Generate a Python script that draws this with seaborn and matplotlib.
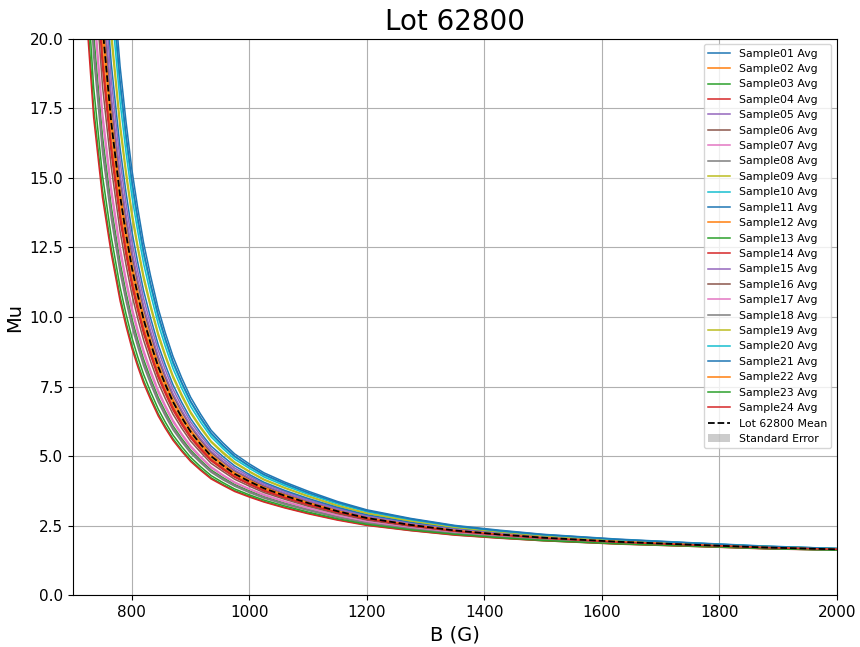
import numpy as np
import pandas as pd
import matplotlib
matplotlib.use("Agg")
import matplotlib.pyplot as plt
import seaborn as sns

# --------------------------
# Data
# --------------------------
lot_name = "62800"
b_field = [720, 735, 750, 765, 780, 790, 800, 810, 820, 832, 845, 857, 870, 885, 900, 917, 935,
           955, 975, 1000, 1025, 1060, 1100, 1150, 1200, 1275, 1350, 1425, 1500, 1625, 1750, 1875, 2000]

sample01 = [52.3, 37.1, 28.25, 22.86, 19.01, 17.04, 15.31, 13.92, 12.67, 11.47, 10.30, 9.43, 8.59, 7.81, 7.12, 6.51, 5.93, 5.48, 5.08, 4.72, 4.40, 4.07, 3.74, 3.37, 3.07, 2.76, 2.51, 2.34, 2.19, 2.02, 1.89, 1.77, 1.68]
sample02 = [34.75, 26.0, 20.66, 17.16, 14.52, 13.14, 11.91, 10.92, 10.03, 9.15, 8.30, 7.66, 7.03, 6.45, 5.94, 5.48, 5.05, 4.71, 4.40, 4.13, 3.88, 3.61, 3.34, 3.04, 2.79, 2.54, 2.34, 2.20, 2.08, 1.93, 1.82, 1.72, 1.65]
sample03 = [26.0, 20.17, 16.50, 13.97, 11.96, 10.89, 9.95, 9.18, 8.48, 7.79, 7.11, 6.60, 6.09, 5.63, 5.22, 4.85, 4.50, 4.23, 3.98, 3.75, 3.54, 3.31, 3.08, 2.83, 2.62, 2.40, 2.23, 2.10, 2.00, 1.87, 1.78, 1.69, 1.63]
sample04 = [31.1, 23.6, 18.97, 15.87, 13.48, 12.23, 11.12, 10.22, 9.40, 8.61, 7.82, 7.24, 6.65, 6.12, 5.65, 5.23, 4.83, 4.52, 4.24, 3.98, 3.74, 3.49, 3.24, 2.96, 2.72, 2.49, 2.30, 2.16, 2.05, 1.91, 1.81, 1.71, 1.64]
sample05 = [38.8, 28.6, 22.46, 18.53, 15.61, 14.08, 12.73, 11.65, 10.67, 9.72, 8.80, 8.10, 7.41, 6.79, 6.23, 5.74, 5.27, 4.90, 4.57, 4.28, 4.01, 3.73, 3.44, 3.13, 2.87, 2.60, 2.38, 2.23, 2.11, 1.95, 1.84, 1.73, 1.66]
sample06 = [36.3, 27.0, 21.37, 17.70, 14.94, 13.51, 12.24, 11.22, 10.29, 9.38, 8.49, 7.83, 7.18, 6.59, 6.06, 5.58, 5.13, 4.79, 4.47, 4.19, 3.93, 3.66, 3.38, 3.08, 2.82, 2.56, 2.36, 2.21, 2.09, 1.94, 1.83, 1.73, 1.65]
sample07 = [27.8, 21.40, 17.39, 14.67, 12.52, 11.39, 10.38, 9.56, 8.82, 8.09, 7.37, 6.83, 6.30, 5.81, 5.38, 4.99, 4.62, 4.33, 4.07, 3.83, 3.62, 3.38, 3.14, 2.88, 2.66, 2.43, 2.25, 2.12, 2.02, 1.89, 1.79, 1.70, 1.64]
sample08 = [24.8, 19.37, 15.92, 13.53, 11.60, 10.58, 9.67, 8.93, 8.25, 7.59, 6.94, 6.44, 5.95, 5.51, 5.11, 4.76, 4.42, 4.15, 3.92, 3.69, 3.49, 3.27, 3.05, 2.80, 2.59, 2.38, 2.21, 2.09, 1.99, 1.87, 1.77, 1.69, 1.63]
sample09 = [43.2, 31.4, 24.42, 20.00, 16.76, 15.09, 13.62, 12.43, 11.36, 10.32, 9.31, 8.56, 7.82, 7.14, 6.54, 6.00, 5.50, 5.10, 4.75, 4.43, 4.14, 3.85, 3.55, 3.21, 2.94, 2.65, 2.43, 2.27, 2.14, 1.98, 1.86, 1.75, 1.67]
sample10 = [47.1, 33.9, 26.05, 21.23, 17.72, 15.93, 14.35, 13.08, 11.92, 10.82, 9.74, 8.94, 8.15, 7.43, 6.79, 6.22, 5.69, 5.27, 4.89, 4.56, 4.25, 3.94, 3.63, 3.28, 3.00, 2.70, 2.46, 2.30, 2.16, 1.99, 1.87, 1.75, 1.67]
sample11 = [40.5, 29.7, 23.23, 19.10, 16.07, 14.49, 13.09, 11.97, 10.95, 9.96, 9.00, 8.28, 7.57, 6.93, 6.35, 5.84, 5.36, 4.99, 4.65, 4.34, 4.06, 3.77, 3.48, 3.16, 2.89, 2.62, 2.40, 2.25, 2.12, 1.96, 1.85, 1.74, 1.66]
sample12 = [32.5, 24.54, 19.62, 16.38, 13.89, 12.59, 11.43, 10.50, 9.65, 8.82, 8.01, 7.40, 6.80, 6.25, 5.76, 5.33, 4.91, 4.59, 4.30, 4.04, 3.80, 3.54, 3.28, 2.99, 2.75, 2.51, 2.31, 2.17, 2.06, 1.92, 1.81, 1.71, 1.65]
sample13 = [22.14, 17.53, 14.57, 12.46, 10.74, 9.82, 9.00, 8.33, 7.72, 7.12, 6.52, 6.07, 5.63, 5.22, 4.86, 4.53, 4.22, 3.98, 3.76, 3.56, 3.37, 3.16, 2.95, 2.72, 2.53, 2.33, 2.17, 2.06, 1.96, 1.85, 1.76, 1.68, 1.62]
sample14 = [21.65, 17.17, 14.30, 12.27, 10.58, 9.68, 8.88, 8.22, 7.62, 7.03, 6.44, 6.00, 5.57, 5.17, 4.81, 4.49, 4.18, 3.95, 3.73, 3.53, 3.35, 3.14, 2.93, 2.70, 2.51, 2.32, 2.16, 2.05, 1.96, 1.84, 1.76, 1.67, 1.62]
sample15 = [37.1, 27.5, 21.71, 17.96, 15.14, 13.69, 12.40, 11.36, 10.41, 9.49, 8.59, 7.91, 7.25, 6.65, 6.11, 5.63, 5.18, 4.82, 4.50, 4.22, 3.96, 3.68, 3.40, 3.09, 2.84, 2.57, 2.37, 2.22, 2.09, 1.94, 1.83, 1.73, 1.66]
sample16 = [29.7, 22.7, 18.31, 15.38, 13.08, 11.89, 10.82, 9.95, 9.17, 8.40, 7.64, 7.07, 6.51, 6.00, 5.54, 5.14, 4.74, 4.45, 4.17, 3.92, 3.69, 3.45, 3.20, 2.93, 2.70, 2.47, 2.28, 2.15, 2.04, 1.90, 1.80, 1.71, 1.64]
sample17 = [27.2, 20.97, 17.08, 14.43, 12.32, 11.22, 10.23, 9.43, 8.70, 7.98, 7.28, 6.75, 6.23, 5.75, 5.32, 4.94, 4.58, 4.30, 4.04, 3.81, 3.59, 3.36, 3.12, 2.86, 2.64, 2.42, 2.24, 2.12, 2.01, 1.88, 1.79, 1.70, 1.63]
sample18 = [25.4, 19.76, 16.20, 13.75, 11.77, 10.74, 9.81, 9.05, 8.36, 7.69, 7.02, 6.52, 6.02, 5.57, 5.17, 4.81, 4.46, 4.19, 3.95, 3.72, 3.52, 3.29, 3.07, 2.81, 2.60, 2.39, 2.22, 2.10, 2.00, 1.87, 1.78, 1.69, 1.63]
sample19 = [44.2, 32.0, 24.81, 20.30, 16.99, 15.30, 13.80, 12.59, 11.50, 10.44, 9.42, 8.65, 7.90, 7.22, 6.60, 6.06, 5.54, 5.15, 4.79, 4.46, 4.17, 3.87, 3.57, 3.23, 2.95, 2.67, 2.44, 2.28, 2.14, 1.98, 1.86, 1.75, 1.67]
sample20 = [49.1, 35.1, 26.94, 21.87, 18.23, 16.37, 14.72, 13.41, 12.22, 11.08, 9.97, 9.14, 8.32, 7.59, 6.93, 6.34, 5.78, 5.35, 4.97, 4.62, 4.31, 3.99, 3.67, 3.32, 3.02, 2.72, 2.48, 2.31, 2.17, 2.00, 1.88, 1.76, 1.68]
sample21 = [50.1, 35.8, 27.37, 22.18, 18.49, 16.59, 14.92, 13.58, 12.37, 11.20, 10.08, 9.23, 8.41, 7.65, 6.98, 6.39, 5.83, 5.39, 5.00, 4.65, 4.34, 4.02, 3.69, 3.34, 3.04, 2.74, 2.49, 2.32, 2.18, 2.01, 1.88, 1.76, 1.68]
sample22 = [34.0, 25.5, 20.30, 16.90, 14.30, 12.95, 11.75, 10.78, 9.90, 9.04, 8.20, 7.57, 6.95, 6.39, 5.88, 5.43, 5.00, 4.67, 4.37, 4.10, 3.85, 3.59, 3.32, 3.03, 2.78, 2.53, 2.33, 2.19, 2.07, 1.93, 1.82, 1.72, 1.65]
sample23 = [23.2, 18.25, 15.09, 12.88, 11.07, 10.12, 9.27, 8.57, 7.94, 7.31, 6.69, 6.22, 5.76, 5.34, 4.96, 4.62, 4.30, 4.05, 3.82, 3.61, 3.42, 3.21, 2.99, 2.75, 2.55, 2.35, 2.19, 2.07, 1.97, 1.85, 1.77, 1.68, 1.62]
sample24 = [31.8, 24.06, 19.28, 16.11, 13.67, 12.40, 11.27, 10.35, 9.52, 8.71, 7.91, 7.32, 6.73, 6.19, 5.71, 5.28, 4.87, 4.56, 4.27, 4.01, 3.77, 3.52, 3.26, 2.98, 2.74, 2.50, 2.30, 2.17, 2.05, 1.91, 1.81, 1.71, 1.65]

sample_values = [sample01, sample02, sample03, sample04, sample05, sample06,
                 sample07, sample08, sample09, sample10, sample11, sample12,
                 sample13, sample14, sample15, sample16, sample17, sample18,
                 sample19, sample20, sample21, sample22, sample23, sample24]
sample_names = [f"Sample{i:02d} Avg" for i in range(1, len(sample_values) + 1)]

# --------------------------
# Long-form table
# --------------------------
rows = []
for name, vals in zip(sample_names, sample_values):
    for b, mu in zip(b_field, vals):
        rows.append({"Sample": name, "B": b, "Mu": mu})
df = pd.DataFrame(rows)

stats = df.groupby("B")["Mu"].agg(["mean", "sem"]).reset_index()

# --------------------------
# Plot
# --------------------------
palette = sns.color_palette("tab10", 10)

fig, ax = plt.subplots(figsize=(8.6, 6.47), dpi=100)

for i, name in enumerate(sample_names):
    sns.lineplot(data=df[df["Sample"] == name], x="B", y="Mu", color=palette[i % 10],
                 linewidth=1.1, estimator=None, label=name, ax=ax)

ax.plot(stats["B"], stats["mean"], color="black", linestyle="--", linewidth=1.3,
        label=f"Lot {lot_name} Mean", zorder=3)
ax.fill_between(stats["B"], stats["mean"] - stats["sem"], stats["mean"] + stats["sem"],
                color="gray", alpha=0.4, linewidth=0, label="Standard Error")

ax.set_xlim(700, 2000)
ax.set_ylim(0, 20)
ax.grid(True, color="#b0b0b0", linewidth=0.8)
ax.set_title(f"Lot {lot_name}", fontsize=20)
ax.set_xlabel("B (G)", fontsize=14)
ax.set_ylabel("Mu", fontsize=14)
ax.tick_params(labelsize=11)
ax.legend(loc="upper right", fontsize=7.8)

fig.subplots_adjust(left=0.085, right=0.973, bottom=0.080, top=0.940)
fig.savefig("out.png", dpi=100)
